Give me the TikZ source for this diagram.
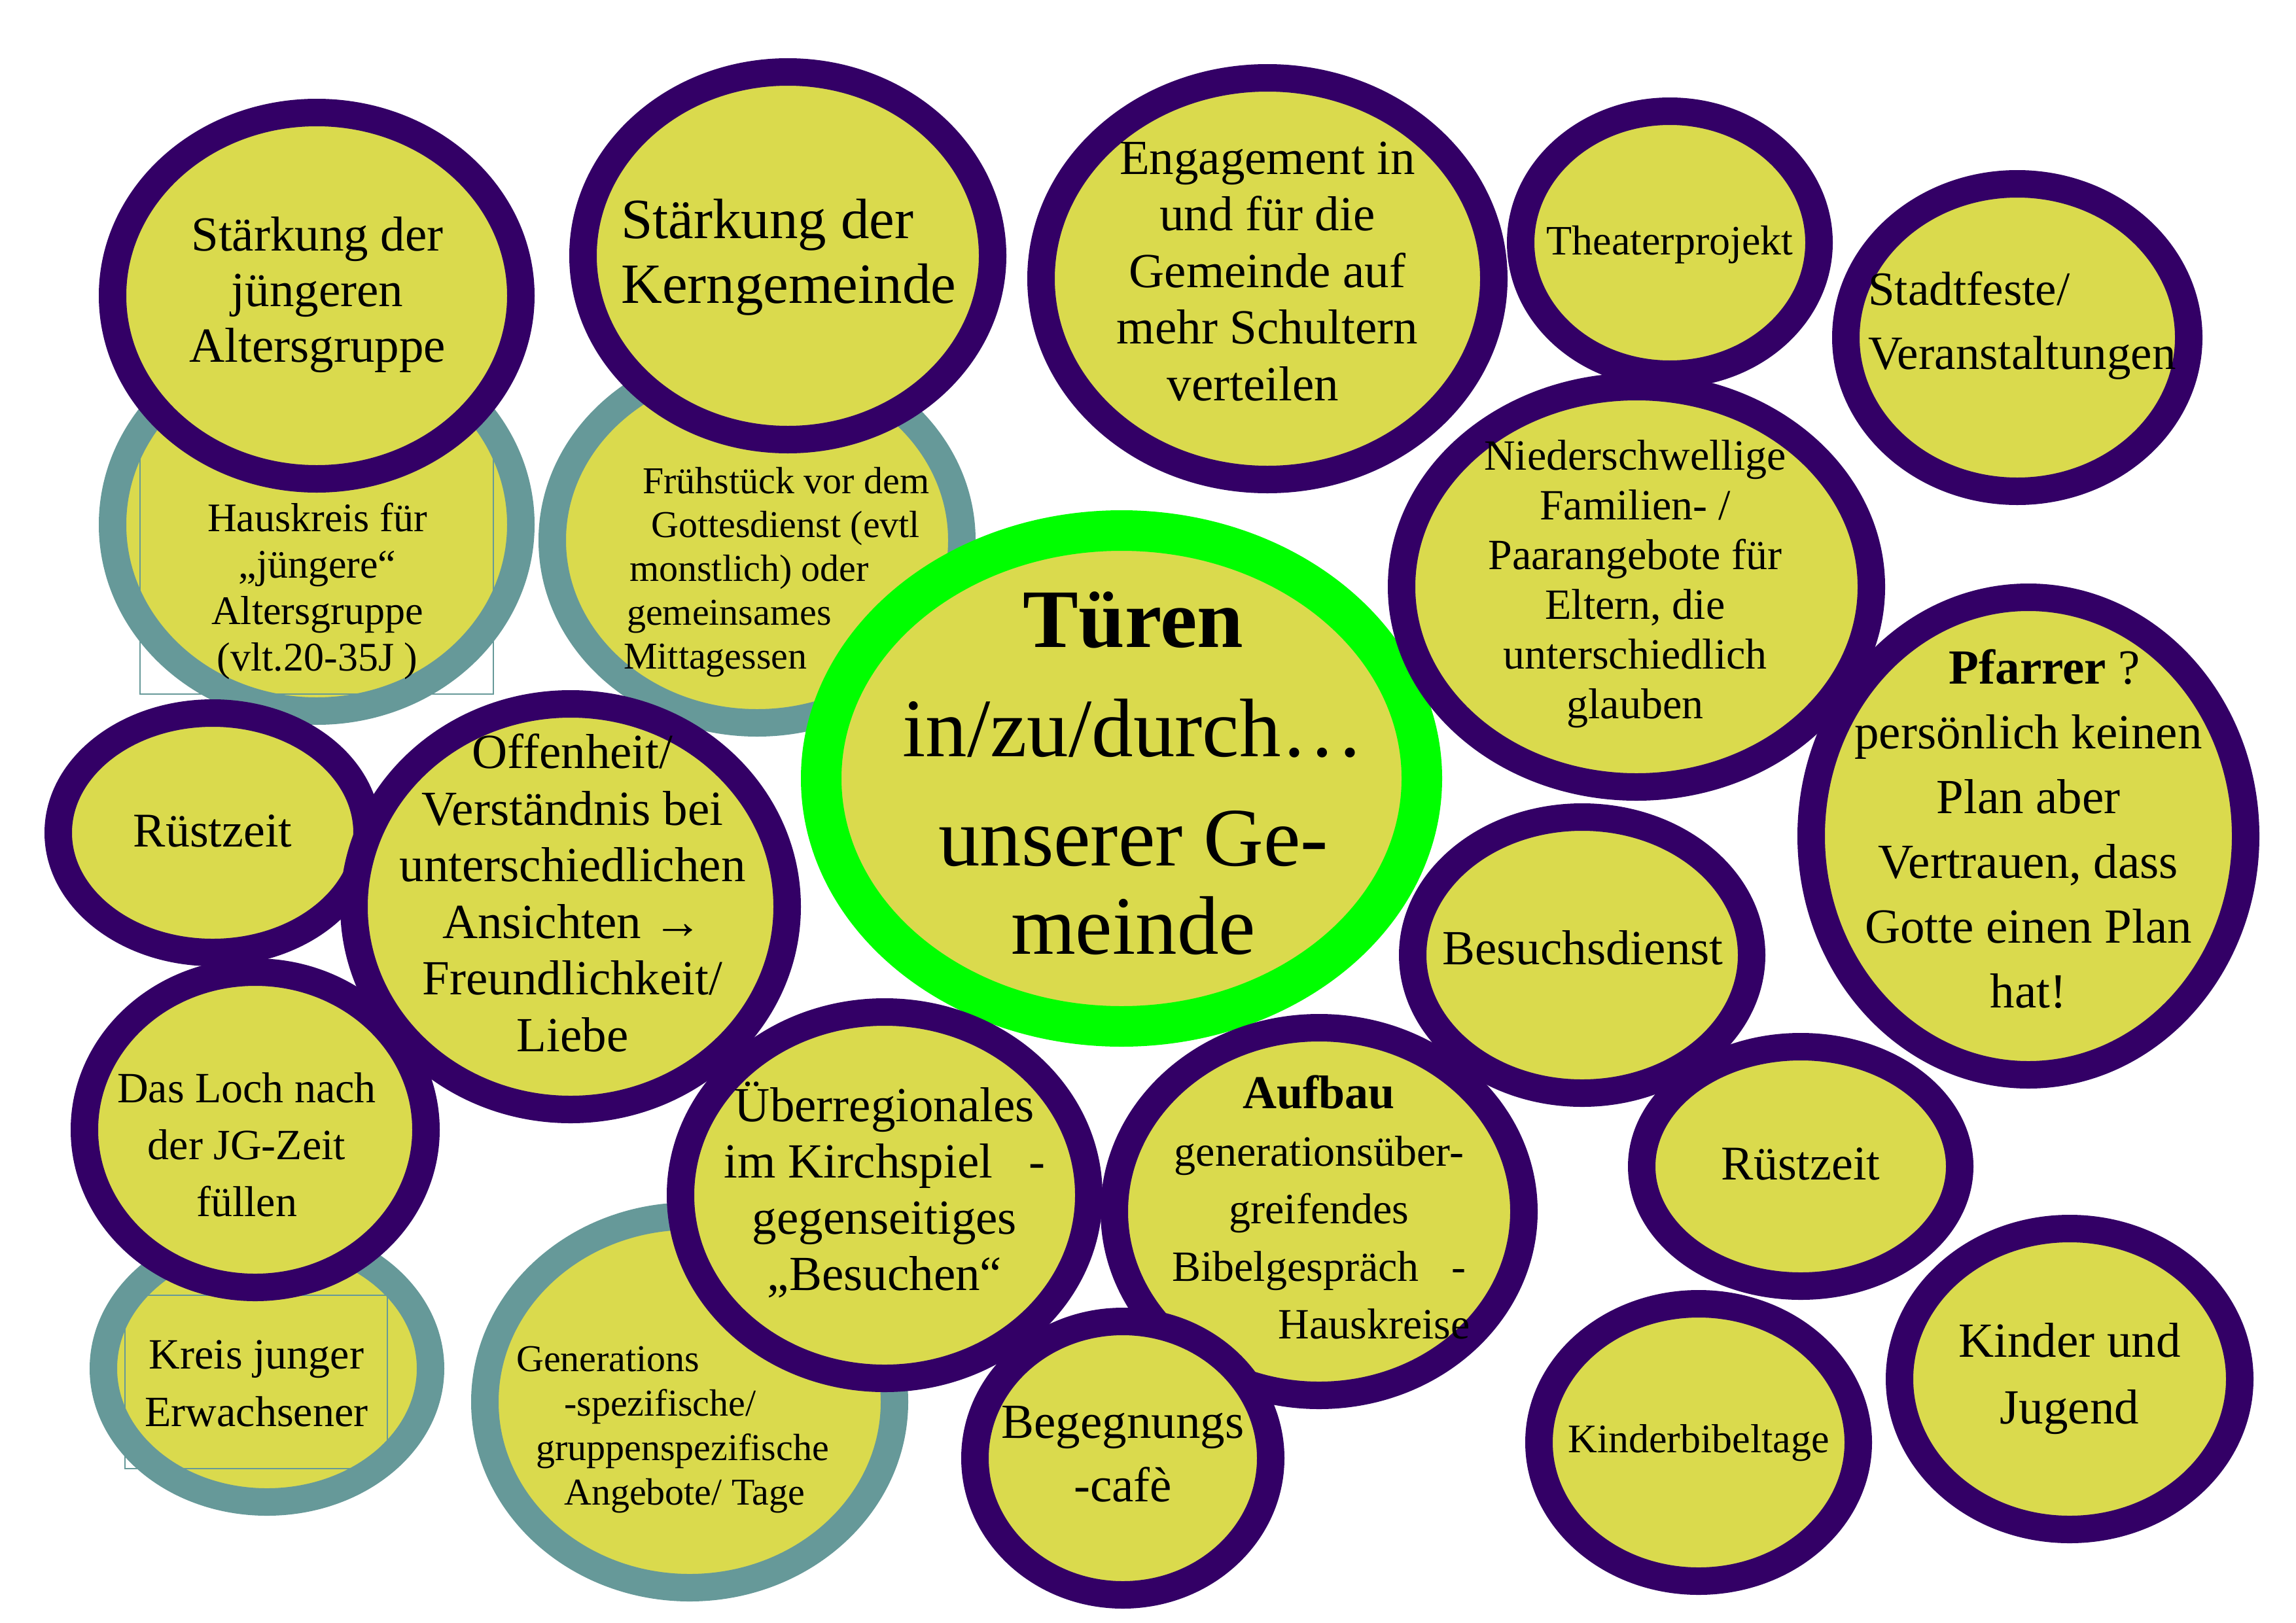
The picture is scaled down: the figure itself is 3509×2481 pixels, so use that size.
\documentclass[tikz,border=0pt]{standalone}
\usepackage{fontspec}
\setmainfont{Liberation Serif}
\usetikzlibrary{shapes.geometric}
\definecolor{ringpurple}{RGB}{51,0,102}
\definecolor{bubyellow}{RGB}{218,218,77}
\definecolor{ringteal}{RGB}{102,153,153}
\definecolor{ringgreen}{RGB}{0,255,0}
\newcommand\bsz[2]{\fontsize{#1}{#2}\selectfont}
\begin{document}
\begin{tikzpicture}[x=1pt,y=-1pt,
  pbub/.style={ellipse, draw=ringpurple, line width=42pt, fill=bubyellow, inner sep=0pt, outer sep=0pt},
  tbub/.style={ellipse, draw=ringteal, line width=42pt, fill=bubyellow, inner sep=0pt, outer sep=0pt},
  gbub/.style={ellipse, draw=ringgreen, line width=62pt, fill=bubyellow, inner sep=0pt, outer sep=0pt},
  es/.style 2 args={minimum width=#1pt, minimum height=#2pt},
  tframe/.style={draw=ringteal, line width=2pt},
  txt/.style={inner sep=0pt, align=center, text=black, anchor=base},
  ltxt/.style={inner sep=0pt, align=left, text=black, anchor=base west},
  sz/.style 2 args={font=\bsz{#1}{#2}}]
\fill[white] (0,0) rectangle (3509,2481);
\useasboundingbox (0,0) rectangle (3509,2481);
% teal bubbles
\node[tbub, es={624}{570}] (hk) at (484,802) {};
\draw[tframe] (214,640) rectangle (754,1061);
\node[tbub, es={626}{558}] (fr) at (1157,826) {};
\node[tbub, es={500}{408}] (kj) at (408,2092) {};
\draw[tframe] (191,1980) rectangle (592,2245);
\node[tbub, es={626}{568}] (ge) at (1054,2143) {};
% central
\node[gbub, es={918}{758}] (tu) at (1714,1190) {};
% purple bubbles
\node[pbub, es={624}{560}] (sj) at (484,452) {};
\node[pbub, es={626}{562}] (sk) at (1204,391) {};
\node[pbub, es={692}{614}] (en) at (1937,426) {};
\node[pbub, es={456}{402}] (th) at (2552,371) {};
\node[pbub, es={524}{470}] (st) at (3083,516) {};
\node[pbub, es={718}{612}] (ni) at (2501,897) {};
\node[pbub, es={664}{730}] (pf) at (3100,1278) {};
\node[pbub, es={472}{366}] (r1) at (325,1273) {};
\node[pbub, es={662}{620}] (of) at (872,1386) {};
\node[pbub, es={522}{482}] (dl) at (390,1727) {};
\node[pbub, es={518}{422}] (bd) at (2418,1460) {};
\node[pbub, es={486}{366}] (r2) at (2752,1783) {};
\node[pbub, es={624}{560}] (ue) at (1352,1827) {};
\node[pbub, es={626}{562}] (au) at (2016,1852) {};
\node[pbub, es={452}{418}] (bg) at (1716,2229) {};
\node[pbub, es={488}{424}] (kb) at (2596,2205) {};
\node[pbub, es={520}{460}] (kuj) at (3163,2108) {};
% texts (anchored at the baseline of their last line)
\node[txt, sz={75}{85}] (tsj) at (485,553) {Stärkung der\\jüngeren\\Altersgruppe};
\node[txt, sz={62}{71}] (thk) at (485,1025) {Hauskreis für\\„jüngere“\\Altersgruppe\\(vlt.20-35J )};
\node[ltxt, sz={87}{99}] (tsk) at (949,463) {Stärkung der\\Kerngemeinde};
\node[ltxt, sz={58}{67}] (tfr) at (953,1022) {\hspace*{29pt}Frühstück vor dem\\\hspace*{42pt}Gottesdienst (evtl\\\hspace*{9pt}monstlich) oder\\\hspace*{5pt}gemeinsames\\Mittagessen};
\node[txt, sz={75}{86.5}] (ten) at (1937,612) {Engagement in\\und für die\\Gemeinde auf\\mehr Schultern\\verteilen\hspace*{44pt}};
\node[txt, sz={64}{74}] (tth) at (2552,389) {Theaterprojekt};
\node[ltxt, sz={73}{98}] (tst) at (2855,564) {Stadtfeste/\\Veranstaltungen};
\node[txt, sz={66}{76}] (tni) at (2499,1098) {Niederschwellige\\Familien- /\\Paarangebote für\\Eltern, die\\unterschiedlich\\glauben};
\node[txt, sz={127}{167}] (ttu) at (1732,1458) {\textbf{Türen}\\in/zu/durch…\\unserer Ge-\\[-32pt]meinde};
\node[txt, sz={75}{99}] (tpf) at (3100,1540) {\hspace*{50pt}\textbf{Pfarrer} ?\\persönlich keinen\\Plan aber\\Vertrauen, dass\\Gotte einen Plan\\hat!};
\node[txt, sz={74}{85}] (tr1) at (325,1294) {Rüstzeit};
\node[txt, sz={75}{86.5}] (tof) at (875,1607) {Offenheit/\\Verständnis bei\\unterschiedlichen\\Ansichten \textbf{→}\\Freundlichkeit/\\Liebe};
\node[txt, sz={75}{86}] (tbd) at (2419,1474) {Besuchsdienst};
\node[txt, sz={66}{87}] (tdl) at (377,1859) {Das Loch nach\\der JG-Zeit\\füllen};
\node[txt, sz={66}{88}] (tkj) at (392,2180) {Kreis junger\\Erwachsener};
\node[ltxt, sz={58}{68}] (tge) at (789,2300) {Generations\\\hspace*{73pt}-spezifische/\\\hspace*{30pt}gruppenspezifische\\\hspace*{73pt}Angebote/ Tage};
\node[txt, sz={75}{86}] (tue) at (1352,1972) {Überregionales\\im Kirchspiel\hspace*{55pt}-\\gegenseitiges\\„Besuchen“};
\node[txt, sz={66}{88}] (tau) at (2016,2046) {{\bsz{72}{88}\bfseries Aufbau}\\generationsüber-\\greifendes\\Bibelgespräch\hspace*{50pt}-\\\hspace*{168pt}Hauskreise};
\node[txt, sz={74}{85}] (tr2) at (2752,1803) {Rüstzeit};
\node[txt, sz={75}{97}] (tbg) at (1716,2295) {Begegnungs\\-cafè};
\node[txt, sz={62}{72}] (tkb) at (2596,2220) {Kinderbibeltage};
\node[txt, sz={75}{102}] (tkuj) at (3163,2176) {Kinder und\\Jugend};
\end{tikzpicture}
\end{document}
